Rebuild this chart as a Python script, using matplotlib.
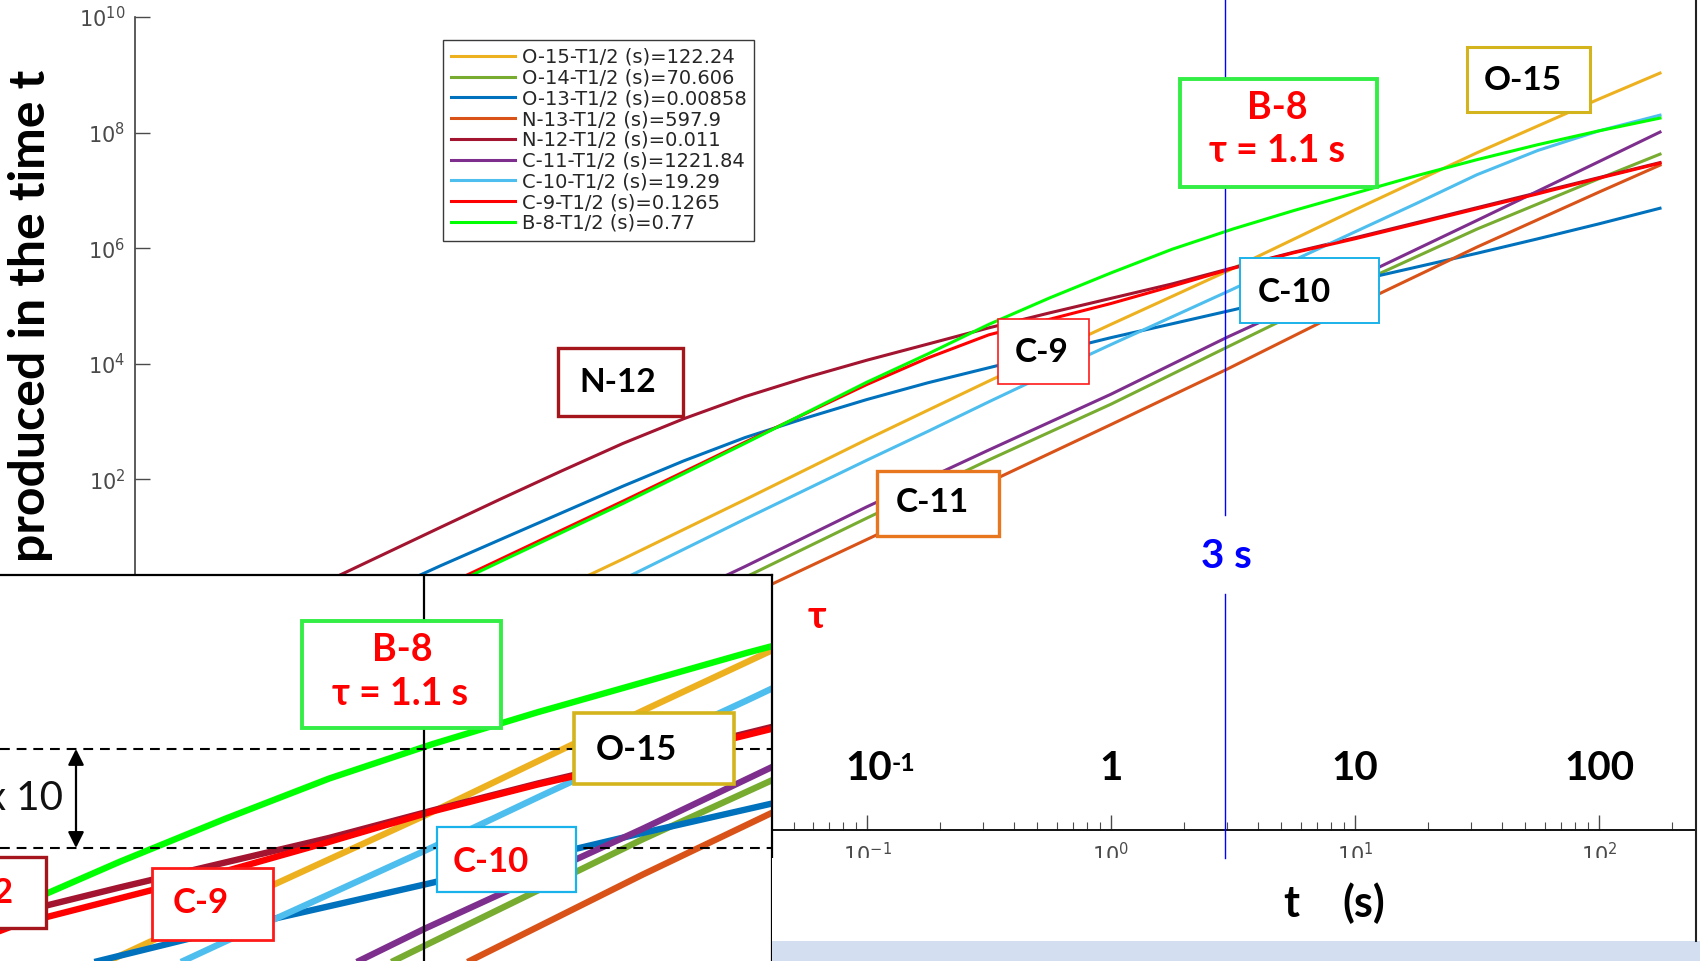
import matplotlib
matplotlib.use("Agg")
import matplotlib.pyplot as plt
from matplotlib.patches import Rectangle
from matplotlib.lines import Line2D
from matplotlib.ticker import LogLocator, NullLocator, NullFormatter

# ---------------------------------------------------------------- data
# irradiation time (s): half-decade grid for the near power-law nuclides,
# quarter-decade grid for the ones whose growth bends over
t_coarse = [3.16e-4, 1e-3, 3.16e-3, 1e-2, 3.16e-2, 0.1, 0.316, 1.0, 3.0, 10.0, 31.6, 100.0, 178.0]
t_fine = [5.62e-4, 1e-3, 1.78e-3, 3.16e-3, 5.62e-3, 1e-2, 1.78e-2, 3.16e-2, 5.62e-2, 0.1,
          0.178, 0.316, 0.562, 1.0, 1.78, 3.16, 5.62, 10.0, 17.8, 31.6, 56.2, 100.0, 178.0]

# number of nuclei produced up to time t
n_o15 = [0.00417, 0.0417, 0.417, 4.16, 44.2, 489, 5.01e3, 4.79e4, 4.00e5, 4.61e6, 4.46e7, 3.80e8, 1.07e9]
n_o14 = [2.0e-4, 2.0e-3, 0.020, 0.20, 2.0, 21.3, 216, 1.99e3, 1.94e4, 2.32e5, 2.13e6, 1.59e7, 4.23e7]
n_n13 = [9.3e-5, 9.3e-4, 9.3e-3, 0.093, 0.923, 9.08, 89.1, 883, 8.07e3, 1.02e5, 1.04e6, 9.31e6, 2.73e7]
n_c11 = [3.09e-4, 3.09e-3, 0.0309, 0.309, 3.08, 33.4, 321, 2.96e3, 2.88e4, 2.96e5, 3.01e6, 3.14e7, 1.02e8]

n_o13 = [0.324, 1.04, 3.16, 9.12, 26.3, 75.9, 209, 525, 1.15e3, 2.40e3, 4.68e3, 8.51e3, 1.55e4,
         2.82e4, 4.90e4, 8.51e4, 1.51e5, 2.69e5, 4.68e5, 8.13e5, 1.45e6, 2.63e6, 4.90e6]
n_n12 = [1.45, 4.60, 14.6, 45.7, 140, 417, 1.12e3, 2.69e3, 5.75e3, 1.15e4, 2.19e4, 4.17e4, 7.59e4,
         1.35e5, 2.40e5, 4.57e5, 8.51e5, 1.51e6, 2.75e6, 5.01e6, 9.12e6, 1.66e7, 3.02e7]
n_c10 = [0.00589, 0.0186, 0.0589, 0.186, 0.589, 1.86, 6.17, 20.4, 66.1, 214, 676, 2.19e3, 6.92e3,
         2.14e4, 6.46e4, 1.95e5, 6.17e5, 1.91e6, 5.89e6, 1.86e7, 4.90e7, 1.07e8, 2.00e8]
n_c9 = [0.132, 0.417, 1.32, 4.17, 13.2, 41.7, 135, 437, 1.38e3, 4.37e3, 1.26e4, 3.16e4, 5.89e4,
        1.10e5, 2.19e5, 4.47e5, 8.32e5, 1.45e6, 2.63e6, 4.79e6, 8.71e6, 1.62e7, 2.95e7]
n_b8 = [0.120, 0.380, 1.20, 3.80, 12.0, 38.0, 126, 417, 1.41e3, 4.79e3, 1.48e4, 4.79e4, 1.38e5,
        3.72e5, 9.55e5, 2.14e6, 4.47e6, 8.91e6, 1.78e7, 3.39e7, 6.17e7, 1.07e8, 1.78e8]

legend_labels = ["O-15-T1/2 (s)=122.24", "O-14-T1/2 (s)=70.606", "O-13-T1/2 (s)=0.00858",
                 "N-13-T1/2 (s)=597.9", "N-12-T1/2 (s)=0.011", "C-11-T1/2 (s)=1221.84",
                 "C-10-T1/2 (s)=19.29", "C-9-T1/2 (s)=0.1265", "B-8-T1/2 (s)=0.77"]
line_colors = ["#EDB120", "#77AC30", "#0072BD", "#D95319", "#A2142F",
               "#7E2F8E", "#4DBEEE", "#FF0000", "#00FF00"]
series_times = [t_coarse, t_coarse, t_fine, t_coarse, t_fine, t_coarse, t_fine, t_fine, t_fine]
series_values = [n_o15, n_o14, n_o13, n_n13, n_n12, n_c11, n_c10, n_c9, n_b8]

marker_time = 3.0        # vertical marker (s)
b8_at_marker = 1.9e6     # B-8 yield at 3 s
big_tick_labels = ["1", "10", "100"]
big_tick_values = [1.0, 10.0, 100.0]

# ---------------------------------------------------------------- layout helpers
W, H = 1700, 961
fig = plt.figure(figsize=(W / 100, H / 100), dpi=100)
fig.patch.set_facecolor("white")

BOLD = dict(family=["Lato", "DejaVu Sans"], weight="bold")


def fbox(x0, y0, x1, y1):
    return [x0 / W, 1 - y1 / H, (x1 - x0) / W, (y1 - y0) / H]


def px_rect(x0, y0, x1, y1, z=10, **kw):
    r = Rectangle((x0 / W, 1 - y1 / H), (x1 - x0) / W, (y1 - y0) / H,
                  transform=fig.transFigure, zorder=z, **kw)
    fig.add_artist(r)
    return r


def px_text(x, y, s, z=11, **kw):
    return fig.text(x / W, 1 - y / H, s, zorder=z, **kw)


def px_line(xs, ys, z=9, **kw):
    ln = Line2D([x / W for x in xs], [1 - y / H for y in ys],
                transform=fig.transFigure, zorder=z, **kw)
    fig.add_artist(ln)
    return ln


def label_box(x0, y0, x1, y1, edge, lw, lines, color, size, ha="center"):
    px_rect(x0, y0, x1, y1, facecolor="white", edgecolor=edge, linewidth=lw)
    for (tx, ty, s) in lines:
        px_text(tx, ty, s, color=color, fontsize=size, ha=ha, va="center", **BOLD)


# ---------------------------------------------------------------- main axes
ax = fig.add_axes(fbox(135, 17, 1696, 830))
ax.set_xscale("log")
ax.set_yscale("log")
for lab, ts, vals, col in zip(legend_labels, series_times, series_values, line_colors):
    ax.plot(ts, vals, color=col, lw=2.2, label=lab)

ax.set_xlim(1e-4, 250)
ax.set_ylim(8.5e-5, 1e10)
ax.set_yticks([10.0 ** k for k in range(-4, 11, 2)])
ax.yaxis.set_minor_locator(NullLocator())
ax.xaxis.set_major_locator(LogLocator(base=10, numticks=20))
ax.xaxis.set_minor_locator(LogLocator(base=10, subs=range(2, 10), numticks=20))
ax.xaxis.set_minor_formatter(NullFormatter())
ax.tick_params(which="major", direction="in", length=11, width=1.0,
               colors="#4a4a4a", labelsize=15, pad=7)
ax.tick_params(which="minor", direction="in", length=5.5, width=0.8, colors="#4a4a4a")
ax.tick_params(axis="x", pad=9)
ax.spines["top"].set_visible(False)
ax.spines["right"].set_visible(False)
ax.spines["left"].set_color("#404040")
ax.spines["left"].set_linewidth(1.2)
ax.spines["bottom"].set_color("#111111")
ax.spines["bottom"].set_linewidth(1.4)

leg = ax.legend(loc="upper left", bbox_to_anchor=(443 / W, 1 - 40 / H),
                bbox_transform=fig.transFigure, fontsize=14, frameon=True,
                fancybox=False, edgecolor="#3a3a3a", framealpha=1,
                handlelength=3.3, handletextpad=0.35, labelspacing=0.09,
                borderpad=0.4, borderaxespad=0)
leg.get_frame().set_linewidth(1.0)
for txt in leg.get_texts():
    txt.set_color("#262626")

# ---------------------------------------------------------------- zoomed inset
axi = fig.add_axes(fbox(0, 575, 772, 961))
axi.set_zorder(5)
axi.set_facecolor("white")
axi.set_xscale("log")
axi.set_yscale("log")
for ts, vals, col in zip(series_times, series_values, line_colors):
    axi.plot(ts, vals, color=col, lw=4.6, solid_capstyle="butt")
axi.set_xlim(10 ** -0.537, 10 ** 1.310)
axi.set_ylim(10 ** 4.137, 10 ** 8.036)
axi.set_xticks([])
axi.set_yticks([])
axi.xaxis.set_minor_locator(NullLocator())
axi.yaxis.set_minor_locator(NullLocator())
axi.spines["left"].set_visible(False)
axi.spines["bottom"].set_visible(False)
for s in ("top", "right"):
    axi.spines[s].set_color("black")
    axi.spines[s].set_linewidth(1.6)

axi.axvline(marker_time, color="black", lw=1.6, zorder=4)
for level in (b8_at_marker, b8_at_marker / 10):
    axi.axhline(level, color="black", lw=1.5, ls=(0, (4.7, 3.3)), zorder=4)
axi.annotate("", xy=(76 / 772, b8_at_marker), xytext=(76 / 772, b8_at_marker / 10),
             xycoords=("axes fraction", "data"), textcoords=("axes fraction", "data"),
             arrowprops=dict(arrowstyle="<|-|>", color="black", lw=1.6,
                             mutation_scale=24, shrinkA=0, shrinkB=0), zorder=6)
px_text(63, 798, "x 10", color="#111111", fontsize=29, ha="right", va="center",
        family=["Lato", "DejaVu Sans"])

# inset labels
label_box(-75, 857, 46, 928, "#A5161C", 2.4, [(13, 893, "N-12")], "#FF0000", 25, ha="right")
label_box(152, 868, 273, 940, "#FF1A1A", 2.0, [(201, 903, "C-9")], "#FF0000", 25)
label_box(437, 827, 576, 892, "#1AB2EA", 1.6, [(491, 862, "C-10")], "#FF0000", 25)
label_box(574, 713, 734, 784, "#D4B41C", 2.6, [(636, 750, "O-15")], "black", 25)
label_box(302, 621, 501, 728, "#33EE44", 2.8,
          [(402, 650, "B-8"), (400, 694, "τ = 1.1 s")], "#FF0000", 27)

# ---------------------------------------------------------------- main labels
label_box(558, 348, 683, 416, "#A5161C", 2.4, [(618, 382, "N-12")], "black", 24)
label_box(998, 319, 1089, 384, "#FF1A1A", 1.2, [(1042, 353, "C-9")], "black", 24)
label_box(877, 471, 999, 536, "#E8761E", 2.4, [(932, 503, "C-11")], "black", 24)
label_box(1240, 258, 1379, 323, "#1AB2EA", 1.4, [(1294, 292, "C-10")], "black", 24)
label_box(1180, 79, 1377, 187, "#33EE44", 2.8,
          [(1277, 108, "B-8"), (1277, 151, "τ = 1.1 s")], "#FF0000", 27)
label_box(1467, 47, 1590, 112, "#D4B41C", 2.2, [(1523, 80, "O-15")], "black", 24)

# 3 s marker
px_line([1225, 1225], [0, 515], z=9.5, color="#0000FF", lw=1.0)
px_line([1225, 1225], [594, 858], z=9.5, color="#0000FF", lw=1.0)
px_text(1226, 556, "3 s", color="#0000FF", fontsize=29, ha="center", va="center", **BOLD)
px_text(817, 617, "τ", color="#FF0000", fontsize=28, ha="center", va="center", **BOLD)

# large decade labels above the time axis
px_text(892, 768, "10", color="black", fontsize=29, ha="right", va="center", **BOLD)
px_text(892, 752, "-1", color="black", fontsize=18, ha="left", va="top", **BOLD)
for lab, val in zip(big_tick_labels, big_tick_values):
    xd = ax.transData.transform((val, 1.0))[0]
    fig.text(xd / fig.bbox.width, 1 - 768 / H, lab, color="black", fontsize=29,
             ha="center", va="center", zorder=11, **BOLD)

# axis titles
px_rect(772, 858, 1694, 941, z=9, facecolor="white", edgecolor="none")
px_rect(772, 941, 1702, 963, z=9, facecolor="#D3DFF0", edgecolor="none")
px_text(1291, 917, "t", color="black", fontsize=31, ha="center", va="baseline", **BOLD)
px_text(1364, 917, "(s)", color="black", fontsize=31, ha="center", va="baseline", **BOLD)
px_text(31, 316, "produced in the time t", color="black", fontsize=36, rotation=90,
        ha="center", va="center", **BOLD)
px_line([1696, 1696], [0, 941], z=9.6, color="#222222", lw=1.5)

fig.savefig("out.png", dpi=100, facecolor="white")
